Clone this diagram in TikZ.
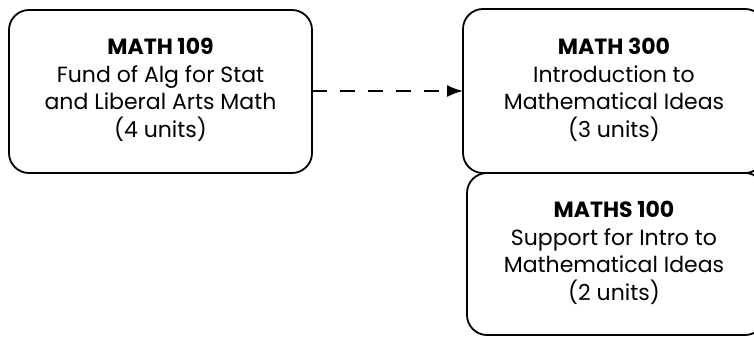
\documentclass[tikz,border=0pt]{standalone}
\usepackage{fontspec}
\setmainfont{Poppins}
\usetikzlibrary{arrows.meta}
\begin{document}
\begin{tikzpicture}[x=1pt,y=-1pt,
  course/.style={draw=black,line width=1.8pt,rounded corners=20pt},
  label/.style={align=center,font=\fontsize{22}{27.5}\selectfont,inner sep=0pt},
  prereq/.style={line width=1.8pt,dash pattern=on 15pt off 13pt,-{Latex[length=16pt,width=12pt]}}]
\useasboundingbox (0,0) rectangle (754,337);
\clip (0,0) rectangle (754,337);
\draw[course] (9,10) rectangle (312,173);
\node[label] (m109) at (160.5,90) {\textbf{MATH 109}\\Fund of Alg for Stat\\and Liberal Arts Math\\(4 units)};
\draw[course] (463,9) rectangle (765,173);
\node[label] (m300) at (614,90) {\textbf{MATH 300}\\Introduction to\\Mathematical Ideas\\(3 units)};
\draw[course] (467,173) rectangle (765,335);
\node[label] (m100) at (614,253) {\textbf{MATHS 100}\\Support for Intro to\\Mathematical Ideas\\(2 units)};
\coordinate (a) at (312,91);
\coordinate (b) at (463,91);
\draw[prereq] (a) -- (b);
\end{tikzpicture}
\end{document}
